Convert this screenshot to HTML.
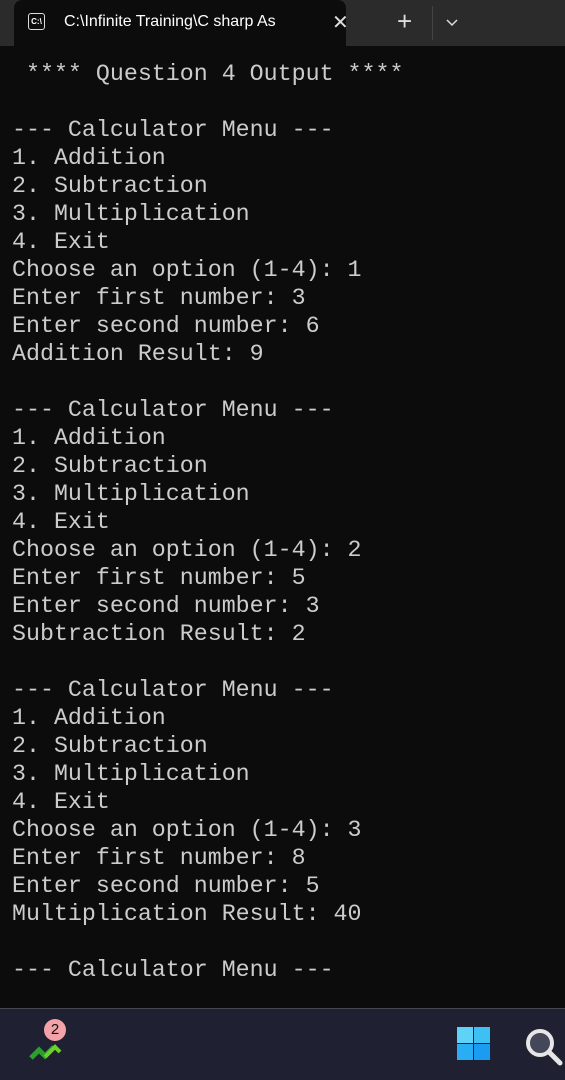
<!DOCTYPE html>
<html><head><style>
html,body{margin:0;padding:0;width:565px;height:1079px;overflow:hidden;background:#0c0c0c;}
.bar{position:absolute;left:0;top:0;width:565px;height:46px;background:#2b2b2b;}
.tab{position:absolute;left:14px;top:0;width:332px;height:46px;background:#0c0c0c;border-radius:8px 8px 0 0;}
.ttl{position:absolute;left:64px;top:13px;font:16px "Liberation Sans",sans-serif;color:#fff;white-space:nowrap;width:250px;overflow:hidden;}
.ico{position:absolute;left:28px;top:13px;width:17px;height:17px;border:1.5px solid #ddd;border-radius:3px;font:bold 8px "Liberation Sans",sans-serif;color:#fff;text-align:center;line-height:15px;box-sizing:border-box;}
.x{position:absolute;left:332px;top:10px;font:20px "Liberation Sans",sans-serif;color:#ddd;}
.plus{position:absolute;left:397px;top:6px;font:26px "Liberation Sans",sans-serif;color:#ddd;}
pre{position:absolute;left:12px;top:60px;margin:0;font:23.3px/28px "Liberation Mono",monospace;color:#cccccc;}
.tb{position:absolute;left:0;top:1008px;width:565px;height:71px;background:#1f2133;border-top:1px solid #45474f;}
</style></head><body>
<div class="bar"></div>
<div class="tab"></div>
<div class="ico">C:\</div>
<div class="ttl">C:\Infinite Training\C sharp As</div>
<div class="x">✕</div>
<div class="plus">+</div>
<div style="position:absolute;left:432px;top:6px;width:1px;height:34px;background:#444"></div>
<svg style="position:absolute;left:445px;top:18px" width="14" height="10"><polyline points="2,2 7,7 12,2" fill="none" stroke="#ddd" stroke-width="1.5"/></svg>
<pre> **** Question 4 Output ****

--- Calculator Menu ---
1. Addition
2. Subtraction
3. Multiplication
4. Exit
Choose an option (1-4): 1
Enter first number: 3
Enter second number: 6
Addition Result: 9

--- Calculator Menu ---
1. Addition
2. Subtraction
3. Multiplication
4. Exit
Choose an option (1-4): 2
Enter first number: 5
Enter second number: 3
Subtraction Result: 2

--- Calculator Menu ---
1. Addition
2. Subtraction
3. Multiplication
4. Exit
Choose an option (1-4): 3
Enter first number: 8
Enter second number: 5
Multiplication Result: 40

--- Calculator Menu ---</pre>
<div class="tb"></div>
<svg style="position:absolute;left:28px;top:1030px" width="40" height="35">
<polyline points="3,28 11,20 17,26 26,17" fill="none" stroke="#2aa12a" stroke-width="5"/>
<polyline points="17,27 27,17 32,22" fill="none" stroke="#6ccf2a" stroke-width="4"/>
</svg>
<div style="position:absolute;left:44px;top:1019px;width:22px;height:22px;border-radius:50%;background:#f4a2aa;color:#111;font:15px 'Liberation Sans',sans-serif;text-align:center;line-height:22px">2</div>
<svg style="position:absolute;left:457px;top:1027px" width="36" height="36">
<rect x="0" y="0" width="16" height="16" fill="#5fd3f7"/><rect x="17" y="0" width="16" height="16" fill="#3dc1f5"/>
<rect x="0" y="17" width="16" height="16" fill="#29aef3"/><rect x="17" y="17" width="16" height="16" fill="#1a9cf0"/>
</svg>
<svg style="position:absolute;left:524px;top:1027px" width="41" height="40">
<circle cx="16" cy="16" r="12" fill="#44465a" stroke="#e6e6e6" stroke-width="4"/>
<line x1="25" y1="25" x2="36" y2="36" stroke="#e6e6e6" stroke-width="5" stroke-linecap="round"/>
</svg>
</body></html>
